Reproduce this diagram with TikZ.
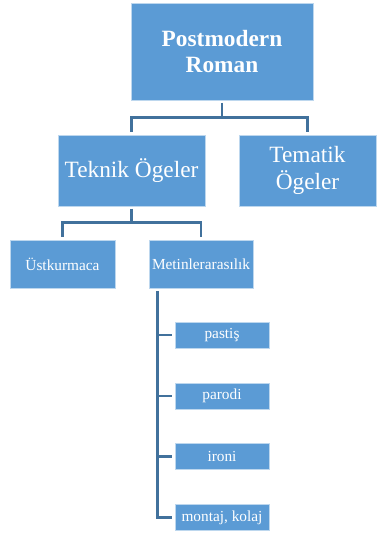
\documentclass[tikz,border=0pt]{standalone}
\usepackage{fontspec}
\setmainfont{Liberation Serif}
\definecolor{boxblue}{HTML}{5B9BD5}
\definecolor{edgeblue}{HTML}{BDD7EE}
\definecolor{lineblue}{HTML}{41719C}
\begin{document}
\begin{tikzpicture}[
    x=0.75pt,y=-0.75pt,
    box/.style={draw=edgeblue, line width=0.6pt, fill=boxblue, text=white,
      inner sep=0pt, align=center},
    big/.style={box, font=\fontsize{17.5}{20}\selectfont},
    small/.style={box, font=\fontsize{11.5}{13}\selectfont},
    line/.style={lineblue, line width=1.7pt}
    ]
    \useasboundingbox (0, 0) rectangle (376, 533);
    \node[big, minimum width=182*0.75pt, minimum height=97*0.75pt,
      font=\fontsize{17.5}{19}\selectfont\bfseries] (root) at (222, 51.5) {Postmodern\\Roman};
    \node[big, minimum width=147*0.75pt, minimum height=71*0.75pt] (teknik) at (131.5, 170.5) {Teknik Ögeler};
    \node[big, minimum width=137*0.75pt, minimum height=71*0.75pt] (tematik) at (307.5, 170.5) {Tematik\\Ögeler};
    \node[small, minimum width=105*0.75pt, minimum height=48*0.75pt] (ust) at (62.5, 264) {Üstkurmaca};
    \node[small, minimum width=104*0.75pt, minimum height=48*0.75pt] (metin) at (201, 264) {Metinlerarasılık};
    \node[small, minimum width=94*0.75pt, minimum height=26*0.75pt] (pastis) at (222, 335) {pastiş};
    \node[small, minimum width=94*0.75pt, minimum height=26*0.75pt] (parodi) at (222, 396) {parodi};
    \node[small, minimum width=94*0.75pt, minimum height=26*0.75pt] (ironi) at (222, 456.5) {ironi};
    \node[small, minimum width=94*0.75pt, minimum height=26*0.75pt] (montaj) at (222, 517.5) {montaj, kolaj};
    % connectors
    \draw[line] ([yshift=-2.5*0.75pt]root.south) -- ++(0, 14.5) -| ([yshift=3*0.75pt]teknik.north);
    \draw[line] ([yshift=-2.5*0.75pt]root.south) -- ++(0, 14.5) -| ([yshift=3*0.75pt]tematik.north);
    \draw[line] ([yshift=-2.5*0.75pt]teknik.south) -- ++(0, 13.5) -| ([yshift=3*0.75pt]ust.north);
    \draw[line] ([yshift=-2.5*0.75pt]teknik.south) -- ++(0, 13.5) -| ([yshift=3*0.75pt]metin.north);
    \coordinate (spine) at ([xshift=9*0.75pt, yshift=-2.5*0.75pt]metin.south west);
    \draw[line] (spine) |- ([xshift=-3*0.75pt]montaj.west);
    \foreach \n in {pastis, parodi, ironi}
      \draw[line] (spine |- \n.west) -- ([xshift=-3*0.75pt]\n.west);
  \end{tikzpicture}
\end{document}
